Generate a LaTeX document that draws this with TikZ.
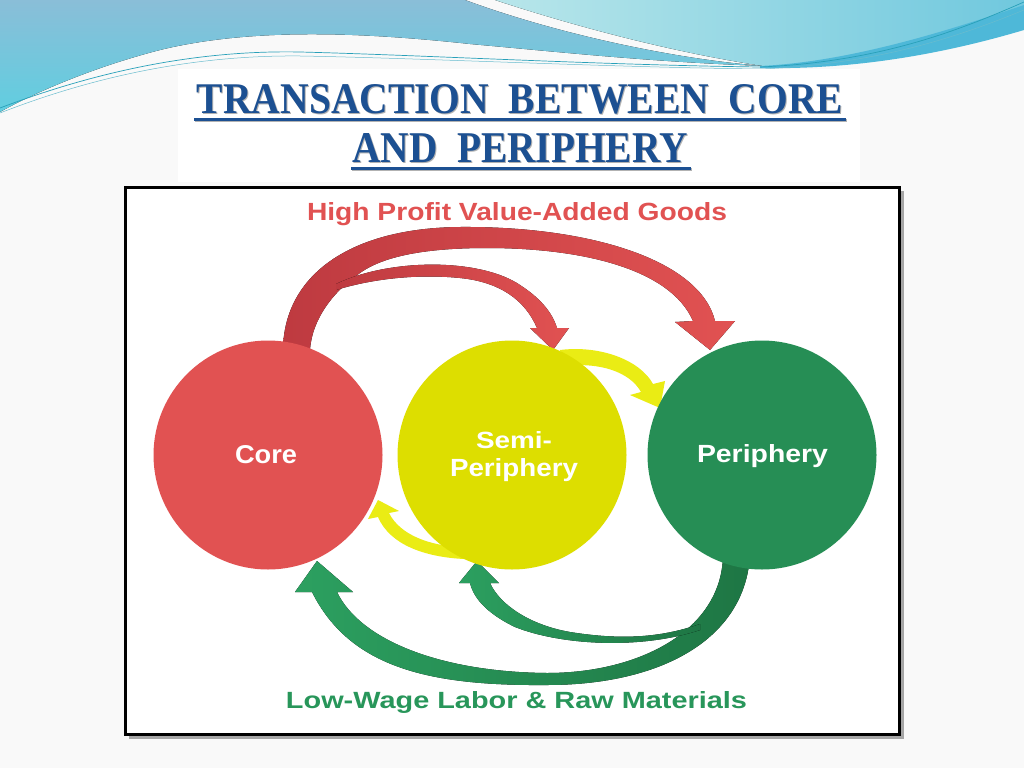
\documentclass[tikz,border=0pt]{standalone}
\usepackage{fontspec}
\setmainfont{Liberation Serif}
\newfontfamily\labfont{Liberation Sans}
\usepackage{graphicx}
\definecolor{bgc}{RGB}{249,249,249}
\definecolor{skyA}{RGB}{138,190,216}
\definecolor{skyB}{RGB}{96,206,224}
\definecolor{skyC}{RGB}{184,230,234}
\definecolor{skyD}{RGB}{112,200,222}
\definecolor{skyE}{RGB}{78,184,216}
\definecolor{linec}{RGB}{40,160,185}
\definecolor{titleblue}{RGB}{28,80,146}
\definecolor{coreR}{RGB}{225,82,82}
\definecolor{coreD}{RGB}{190,58,64}
\definecolor{semiY}{RGB}{221,222,0}
\definecolor{semiL}{RGB}{234,236,20}
\definecolor{periG}{RGB}{38,142,85}
\definecolor{periL}{RGB}{44,160,96}
\definecolor{periD}{RGB}{30,118,68}
\definecolor{txtG}{RGB}{40,150,90}
\tikzset{
  circ/.style={circle, minimum size=229pt, inner sep=0pt, draw=none},
  lab/.style={text=white, anchor=base, inner sep=0pt, font=\labfont\bfseries\fontsize{20}{24}\selectfont},
  ttl/.style={text=titleblue, anchor=base, inner sep=0pt, font=\bfseries\fontsize{40}{44}\selectfont},
  ttlsh/.style={text=black!30, anchor=base, inner sep=0pt, font=\bfseries\fontsize{40}{44}\selectfont},
  redarrow/.style={left color=coreD, right color=coreR, draw=none},
  greenarrow/.style={left color=periL, right color=periD, draw=none},
  yelarrow/.style={fill=semiL, draw=none},
}
\begin{document}
\begin{tikzpicture}[x=1pt,y=-1pt]
\useasboundingbox (0,0) rectangle (1024,768);
% background
\fill[bgc] (0,0) rectangle (1024,768);
% top swoosh
\fill[top color=skyA, bottom color=skyB] (0,0) -- (465,0) .. controls (560,35) and (680,60) .. (765,66)
  .. controls (650,62) and (560,52) .. (470,44) .. controls (360,32) and (250,28) .. (160,50)
  .. controls (90,68) and (30,95) .. (0,112) -- cycle;
\fill[left color=skyC, right color=skyD] (495,0) -- (1024,0) -- (1024,22) .. controls (950,45) and (860,62) .. (770,67)
  .. controls (680,54) and (580,28) .. (495,0) -- cycle;
\fill[skyE] (760,66) .. controls (850,62) and (950,30) .. (1024,5) -- (1024,30) .. controls (950,52) and (860,70) .. (760,68) -- cycle;
\draw[linec, line width=0.7] (0,108) .. controls (100,70) and (200,50) .. (300,52) .. controls (420,55) and (600,65) .. (760,67)
  .. controls (880,62) and (960,30) .. (1024,2);
\draw[linec!70, line width=0.5] (0,113) .. controls (100,74) and (200,55) .. (300,56) .. controls (420,58) and (600,67) .. (760,69)
  .. controls (880,64) and (960,36) .. (1024,10);
% title box
\fill[white] (178,69) rectangle (860,182);
\node[ttlsh] (t1s) at (521,114) {\resizebox{646pt}{29pt}{TRANSACTION~~BETWEEN~~CORE}};
\node[ttl] (t1) at (520,113) {\resizebox{646pt}{29pt}{TRANSACTION~~BETWEEN~~CORE}};
\fill[black!30] (195,118.5) rectangle (847,122);
\fill[titleblue] (194,117.5) rectangle (846,121);
\node[ttlsh] (t2s) at (521,163) {\resizebox{335pt}{29pt}{AND~~PERIPHERY}};
\node[ttl] (t2) at (520,162) {\resizebox{335pt}{29pt}{AND~~PERIPHERY}};
\fill[black!30] (352,167.5) rectangle (692,171);
\fill[titleblue] (351,166.5) rectangle (691,170);
% frame
\fill[black!35] (129,191) rectangle (904,739);
\filldraw[fill=white, draw=black, line width=3] (125,187) rectangle (899,734);
% red arrows
\fill[redarrow] (283,348) .. controls (285,275) and (350,228) .. (460,227)
  .. controls (590,226) and (700,260) .. (715,321) -- (735,321) -- (710,350) -- (675,322) -- (693,321)
  .. controls (670,268) and (580,248) .. (487,248) .. controls (430,248) and (385,255) .. (360,273)
  .. controls (335,290) and (312,318) .. (310,350) -- cycle;
\fill[redarrow] (336,284) .. controls (390,258) and (480,258) .. (520,285) .. controls (540,298) and (552,312) .. (557,328)
  -- (569,328) -- (553,350) -- (530,328) -- (537,328)
  .. controls (525,300) and (500,282) .. (460,278) .. controls (420,274) and (375,278) .. (336,290) -- cycle;
% yellow arrows
\fill[yelarrow] (560,350) .. controls (600,345) and (640,360) .. (653,384) -- (665,381) -- (660,408) -- (630,395) -- (641,392)
  .. controls (630,372) and (600,362) .. (565,366) -- cycle;
\fill[yelarrow] (462,547) .. controls (430,546) and (400,535) .. (389,513) -- (399,511) -- (378,500) -- (368,519) -- (378,517)
  .. controls (390,545) and (425,557) .. (464,559) -- cycle;
% green arrows
\fill[greenarrow] (750,555) .. controls (745,640) and (660,685) .. (547,685)
  .. controls (430,686) and (350,668) .. (312,592) -- (295,592) -- (317,561) -- (353,592) -- (337,592)
  .. controls (360,640) and (440,672) .. (547,673) .. controls (640,673) and (722,630) .. (723,555) -- cycle;
\fill[greenarrow] (700,630) .. controls (640,650) and (560,645) .. (515,627) .. controls (490,615) and (474,600) .. (470,583)
  -- (459,583) -- (477,561) -- (499,583) -- (490,583)
  .. controls (500,605) and (530,625) .. (570,632) .. controls (620,640) and (660,638) .. (700,624) -- cycle;
% circles
\node[circ, fill=coreR] (core) at (268,455) {};
\node[circ, fill=semiY] (semi) at (512,455) {};
\node[circ, fill=periG] (peri) at (762,455) {};
% labels
\node[lab] (corelab) at (266,463) {\resizebox{62pt}{18pt}{Core}};
\node[lab] (semilab1) at (514,448) {\resizebox{76pt}{17pt}{Semi-}};
\node[lab] (semilab2) at (514,476) {\resizebox{128pt}{18pt}{Periphery}};
\node[lab] (perilab) at (762.5,462) {\resizebox{131pt}{18pt}{Periphery}};
\node[lab, text=coreR] (toplab) at (517,220) {\resizebox{420pt}{18pt}{High Profit Value-Added Goods}};
\node[lab, text=txtG] (botlab) at (516.5,708) {\resizebox{461pt}{17pt}{Low-Wage Labor \& Raw Materials}};
\end{tikzpicture}
\end{document}
